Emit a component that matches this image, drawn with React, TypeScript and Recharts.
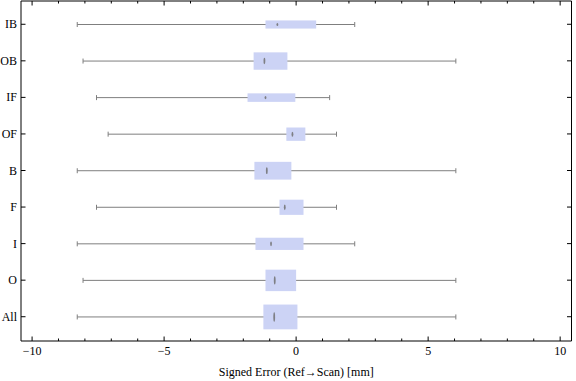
import { ComposedChart, Bar, XAxis, YAxis, Label } from 'recharts'

// Box-whisker summary per region (mm)
const categories = ['IB', 'OB', 'IF', 'OF', 'B', 'F', 'I', 'O', 'All']
const whiskerLow = [-8.29, -8.07, -7.56, -7.12, -8.29, -7.56, -8.29, -8.07, -8.29]
const whiskerHigh = [2.22, 6.05, 1.27, 1.53, 6.05, 1.53, 2.22, 6.05, 6.05]
const quartile1 = [-1.16, -1.61, -1.84, -0.37, -1.58, -0.63, -1.54, -1.16, -1.24]
const quartile3 = [0.76, -0.33, -0.03, 0.35, -0.18, 0.28, 0.28, 0.0, 0.05]
const medians = [-0.71, -1.2, -1.16, -0.14, -1.11, -0.43, -0.95, -0.81, -0.83]
// relative box thickness (sample weight) per row
const boxWeight = [0.22, 0.47, 0.23, 0.36, 0.48, 0.41, 0.33, 0.58, 0.67]

const xTicks = [-10, -9, -8, -7, -6, -5, -4, -3, -2, -1, 0, 1, 2, 3, 4, 5, 6, 7, 8, 9, 10]

const rows = categories.map((name, i) => ({
  name,
  range: [whiskerLow[i], whiskerHigh[i]],
  q1: quartile1[i],
  q3: quartile3[i],
  median: medians[i],
  weight: boxWeight[i],
}))

const FONT = '"Liberation Serif", "DejaVu Serif", serif'
const WHISKER = '#7f7f7f'
const BOX = '#ccd3f5'

const fmt = (v: number) => (v < 0 ? `\u2212${Math.abs(v)}` : `${v}`)

// ─── frame ticks (Mathematica style: pointing inward) ───────────────────────

// eslint-disable-next-line @typescript-eslint/no-explicit-any
function BottomTick({ x, y, payload }: any) {
  const major = payload.value % 5 === 0
  return (
    <g>
      <line x1={x} x2={x} y1={y} y2={y - (major ? 4.5 : 2.5)} stroke="#000" />
      {major && (
        <text x={x} y={y + 14} textAnchor="middle" fontSize={12} fontFamily={FONT} fill="#000">
          {fmt(payload.value)}
        </text>
      )}
    </g>
  )
}

// eslint-disable-next-line @typescript-eslint/no-explicit-any
function TopTick({ x, y, payload }: any) {
  const major = payload.value % 5 === 0
  return <line x1={x} x2={x} y1={y} y2={y + (major ? 4.5 : 2.5)} stroke="#000" />
}

// eslint-disable-next-line @typescript-eslint/no-explicit-any
function LeftTick({ x, y, payload }: any) {
  return (
    <g>
      <line x1={x} x2={x + 4.5} y1={y} y2={y} stroke="#000" />
      <text x={x - 4} y={y + 4} textAnchor="end" fontSize={12} fontFamily={FONT} fill="#000">
        {payload.value}
      </text>
    </g>
  )
}

// eslint-disable-next-line @typescript-eslint/no-explicit-any
function RightTick({ x, y }: any) {
  return <line x1={x} x2={x - 4.5} y1={y} y2={y} stroke="#000" />
}

// ─── box + whisker drawn from the range bar's scaled geometry ───────────────

// eslint-disable-next-line @typescript-eslint/no-explicit-any
function BoxWhisker(props: any) {
  const { x, y, width, height, payload } = props
  const [lo, hi] = payload.range
  const k = width / (hi - lo)
  const px = (v: number) => x + (v - lo) * k
  const cy = y + height / 2
  const bh = height * payload.weight
  const x1 = px(payload.q1)
  const x3 = px(payload.q3)
  return (
    <g>
      <line x1={px(lo)} x2={px(hi)} y1={cy} y2={cy} stroke={WHISKER} strokeWidth={1} />
      <line x1={px(lo)} x2={px(lo)} y1={cy - 2.5} y2={cy + 2.5} stroke={WHISKER} />
      <line x1={px(hi)} x2={px(hi)} y1={cy - 2.5} y2={cy + 2.5} stroke={WHISKER} />
      <rect x={x1} y={cy - bh / 2} width={x3 - x1} height={bh} fill={BOX} />
      <ellipse cx={px(payload.median)} cy={cy} rx={0.9} ry={Math.max(1.3, bh * 0.19)} fill="#707070" fillOpacity={0.85} />
    </g>
  )
}

export default function App() {
  return (
    <div style={{ position: 'absolute', left: 0, top: 0, width: 576, height: 381, background: '#fff' }}>
      <ComposedChart
        width={576}
        height={381}
        data={rows}
        layout="vertical"
        barCategoryGap="0%"
        margin={{ top: 0, right: 2.5, bottom: 0, left: 0 }}
      >
        <XAxis
          xAxisId="bottom"
          type="number"
          orientation="bottom"
          domain={[-10.42, 10.43]}
          allowDataOverflow
          ticks={xTicks}
          interval={0}
          height={40}
          tickSize={0}
          tickMargin={0}
          tickLine={false}
          axisLine={{ stroke: '#000' }}
          tick={<BottomTick />}
        >
          <Label
            value="Signed Error (Ref→Scan) [mm]"
            position="insideBottom"
            offset={5}
            fontSize={12}
            fontFamily={FONT}
            fill="#000"
          />
        </XAxis>
        <XAxis
          xAxisId="top"
          type="number"
          orientation="top"
          domain={[-10.42, 10.43]}
          allowDataOverflow
          ticks={xTicks}
          interval={0}
          height={1}
          tickSize={0}
          tickMargin={0}
          tickLine={false}
          axisLine={{ stroke: '#000' }}
          tick={<TopTick />}
        />
        <YAxis
          yAxisId="left"
          type="category"
          dataKey="name"
          orientation="left"
          width={21}
          padding={{ top: 5, bottom: 6 }}
          interval={0}
          tickSize={0}
          tickMargin={0}
          tickLine={false}
          axisLine={{ stroke: '#000' }}
          tick={<LeftTick />}
        />
        <YAxis
          yAxisId="right"
          type="category"
          dataKey="name"
          orientation="right"
          width={2}
          padding={{ top: 5, bottom: 6 }}
          interval={0}
          tickSize={0}
          tickMargin={0}
          tickLine={false}
          axisLine={{ stroke: '#000' }}
          tick={<RightTick />}
        />
        <Bar
          dataKey="range"
          xAxisId="bottom"
          yAxisId="left"
          shape={<BoxWhisker />}
          isAnimationActive={false}
        />
      </ComposedChart>
    </div>
  )
}
